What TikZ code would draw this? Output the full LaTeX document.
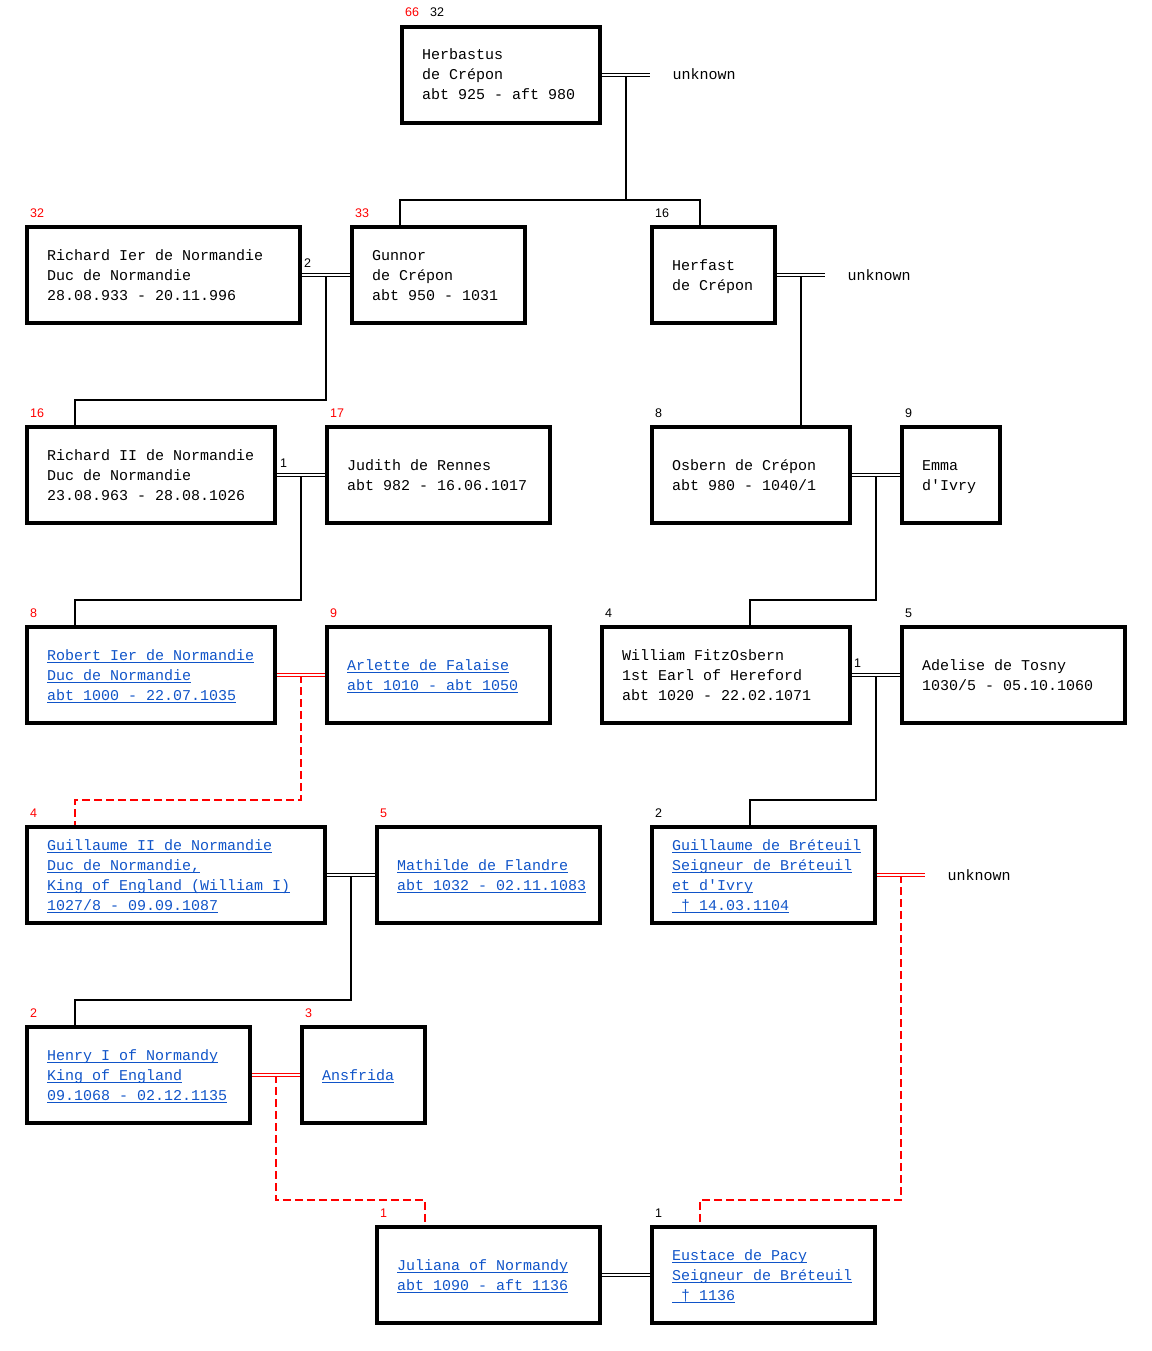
\documentclass[tikz,border=0pt]{standalone}
\usepackage{fontspec}
\newfontfamily\mono{Liberation Mono}
\newfontfamily\numf{Liberation Sans}
\usetikzlibrary{positioning}
\definecolor{lnkblue}{RGB}{16,84,200}
\newcommand\lnk[1]{\setbox0\hbox{#1}\rlap{\vrule width\wd0 height -2pt depth 3.2pt}\box0}
\newcommand\ps{\rule[-4pt]{0pt}{18pt}}
\tikzset{
  box/.style={draw, line width=3.8pt, minimum height=96.2pt, inner sep=0, anchor=north west},
  txt/.style={inner sep=0, align=left, font=\mono\fontsize{15}{20}\selectfont},
  link/.style={txt, text=lnkblue},
  num/.style={inner sep=0, anchor=base west, font=\numf\fontsize{12.5}{13}\selectfont},
  marr/.style={line width=1pt, double=white, double distance=1.2pt},
  desc/.style={line width=2pt},
  redline/.style={line width=2pt, red, dash pattern=on 8pt off 4pt},
}
\begin{document}
\begin{tikzpicture}[x=1pt, y=-1pt]
\useasboundingbox (0,0) rectangle (1151,1351);
% boxes
\node[box, minimum width=198pt] (herb) at (400,25) {};
\node[box, minimum width=273pt] (rich1) at (25,225) {};
\node[box, minimum width=173pt] (gunnor) at (350,225) {};
\node[box, minimum width=123pt] (herfast) at (650,225) {};
\node[box, minimum width=248pt] (rich2) at (25,425) {};
\node[box, minimum width=223pt] (judith) at (325,425) {};
\node[box, minimum width=198pt] (osbern) at (650,425) {};
\node[box, minimum width=98pt] (emma) at (900,425) {};
\node[box, minimum width=248pt] (robert) at (25,625) {};
\node[box, minimum width=223pt] (arlette) at (325,625) {};
\node[box, minimum width=248pt] (willf) at (600,625) {};
\node[box, minimum width=223pt] (adelise) at (900,625) {};
\node[box, minimum width=298pt] (guill) at (25,825) {};
\node[box, minimum width=223pt] (mathilde) at (375,825) {};
\node[box, minimum width=223pt] (guibr) at (650,825) {};
\node[box, minimum width=223pt] (henry) at (25,1025) {};
\node[box, minimum width=123pt] (ansfrida) at (300,1025) {};
\node[box, minimum width=223pt] (juliana) at (375,1225) {};
\node[box, minimum width=223pt] (eustace) at (650,1225) {};

% names
\node[txt, right=22pt of herb.west] (herbT) {\ps Herbastus\\de Crépon\\abt 925 - aft 980\ps};
\node[txt, right=22pt of rich1.west] (rich1T) {\ps Richard Ier de Normandie\\Duc de Normandie\\28.08.933 - 20.11.996\ps};
\node[txt, right=22pt of gunnor.west] (gunnorT) {\ps Gunnor\\de Crépon\\abt 950 - 1031\ps};
\node[txt, right=22pt of herfast.west] (herfastT) {\ps Herfast\\de Crépon\ps};
\node[txt, right=22pt of rich2.west] (rich2T) {\ps Richard II de Normandie\\Duc de Normandie\\23.08.963 - 28.08.1026\ps};
\node[txt, right=22pt of judith.west] (judithT) {\ps Judith de Rennes\\abt 982 - 16.06.1017\ps};
\node[txt, right=22pt of osbern.west] (osbernT) {\ps Osbern de Crépon\\abt 980 - 1040/1\ps};
\node[txt, right=22pt of emma.west] (emmaT) {\ps Emma\\d'Ivry\ps};
\node[link, right=22pt of robert.west] (robertT) {\ps\lnk{Robert Ier de Normandie}\\\lnk{Duc de Normandie}\\\lnk{abt 1000 - 22.07.1035}\ps};
\node[link, right=22pt of arlette.west] (arletteT) {\ps\lnk{Arlette de Falaise}\\\lnk{abt 1010 - abt 1050}\ps};
\node[txt, right=22pt of willf.west] (willfT) {\ps William FitzOsbern\\1st Earl of Hereford\\abt 1020 - 22.02.1071\ps};
\node[txt, right=22pt of adelise.west] (adeliseT) {\ps Adelise de Tosny\\1030/5 - 05.10.1060\ps};
\node[link, right=22pt of guill.west] (guillT) {\ps\lnk{Guillaume II de Normandie}\\\lnk{Duc de Normandie,}\\\lnk{King of England (William I)}\\\lnk{1027/8 - 09.09.1087}\ps};
\node[link, right=22pt of mathilde.west] (mathildeT) {\ps\lnk{Mathilde de Flandre}\\\lnk{abt 1032 - 02.11.1083}\ps};
\node[link, right=22pt of guibr.west] (guibrT) {\ps\lnk{Guillaume de Bréteuil}\\\lnk{Seigneur de Bréteuil}\\\lnk{et d'Ivry}\\\lnk{~† 14.03.1104}\ps};
\node[link, right=22pt of henry.west] (henryT) {\ps\lnk{Henry I of Normandy}\\\lnk{King of England}\\\lnk{09.1068 - 02.12.1135}\ps};
\node[link, right=22pt of ansfrida.west] (ansfridaT) {\ps\lnk{Ansfrida}\ps};
\node[link, right=22pt of juliana.west] (julianaT) {\ps\lnk{Juliana of Normandy}\\\lnk{abt 1090 - aft 1136}\ps};
\node[link, right=22pt of eustace.west] (eustaceT) {\ps\lnk{Eustace de Pacy}\\\lnk{Seigneur de Bréteuil}\\\lnk{~† 1136}\ps};

% numbers
\node[num, red] (n66) at (405,17) {66};
\node[num] (n32a) at (430,17) {32};
\node[num, red] (n32b) at (30,217) {32};
\node[num, red] (n33) at (355,217) {33};
\node[num] (n16a) at (655,217) {16};
\node[num, red] (n16b) at (30,417) {16};
\node[num, red] (n17) at (330,417) {17};
\node[num] (n8a) at (655,417) {8};
\node[num] (n9a) at (905,417) {9};
\node[num, red] (n8b) at (30,617) {8};
\node[num, red] (n9b) at (330,617) {9};
\node[num] (n4a) at (605,617) {4};
\node[num] (n5a) at (905,617) {5};
\node[num, red] (n4b) at (30,817) {4};
\node[num, red] (n5b) at (380,817) {5};
\node[num] (n2a) at (655,817) {2};
\node[num, red] (n2b) at (30,1017) {2};
\node[num, red] (n3) at (305,1017) {3};
\node[num, red] (n1a) at (380,1217) {1};
\node[num] (n1b) at (655,1217) {1};
\node[num] (mr1) at (304,267) {2};
\node[num] (mr2) at (280,467) {1};
\node[num] (mr3) at (854,667) {1};

% unknown spouses
\coordinate (u1) at ([xshift=48.5pt]herb.east);
\coordinate (u2) at ([xshift=48.5pt]herfast.east);
\coordinate (u3) at ([xshift=48.5pt]guibr.east);
\node[txt, right=22pt of u1] (unk1) {\ps unknown};
\node[txt, right=22pt of u2] (unk2) {\ps unknown};
\node[txt, right=22pt of u3] (unk3) {\ps unknown};

% middle of each couple
\path (herb.east) -- (u1) coordinate[midway] (m1);
\path (rich1.east) -- (gunnor.west) coordinate[midway] (m2);
\path (herfast.east) -- (u2) coordinate[midway] (m3);
\path (rich2.east) -- (judith.west) coordinate[midway] (m4);
\path (osbern.east) -- (emma.west) coordinate[midway] (m5);
\path (robert.east) -- (arlette.west) coordinate[midway] (m6);
\path (willf.east) -- (adelise.west) coordinate[midway] (m7);
\path (guill.east) -- (mathilde.west) coordinate[midway] (m8);
\path (guibr.east) -- (u3) coordinate[midway] (m9);
\path (henry.east) -- (ansfrida.west) coordinate[midway] (m10);

% children
\coordinate (t1) at (400,200);
\coordinate (t2) at (700,200);
\coordinate (t3) at (75,400);
\coordinate (t4) at (75,600);
\coordinate (t5) at (750,600);
\coordinate (t6) at (75,800);
\coordinate (t7) at (750,800);
\coordinate (t8) at (75,1000);
\coordinate (t9) at (700,1200);
\coordinate (t10) at (425,1200);
\draw[desc] (m1) -- (m1 |- t1);
\draw[desc] (t1 |- gunnor.north) -- (t1) -- (t2) -- (t2 |- herfast.north);
\draw[desc] (m2) |- (t3) -- (t3 |- rich2.north);
\draw[desc] (m3) -- (m3 |- osbern.north);
\draw[desc] (m4) |- (t4) -- (t4 |- robert.north);
\draw[desc] (m5) |- (t5) -- (t5 |- willf.north);
\draw[redline] (m6) |- (t6) -- (t6 |- guill.north);
\draw[desc] (m7) |- (t7) -- (t7 |- guibr.north);
\draw[desc] (m8) |- (t8) -- (t8 |- henry.north);
\draw[redline] (m9) |- (t9) -- (t9 |- eustace.north);
\draw[redline] (m10) |- (t10) -- (t10 |- juliana.north);

% marriages
\draw[marr] (herb.east) -- (u1);
\draw[marr] (rich1.east) -- (gunnor.west);
\draw[marr] (herfast.east) -- (u2);
\draw[marr] (rich2.east) -- (judith.west);
\draw[marr] (osbern.east) -- (emma.west);
\draw[marr, red] (robert.east) -- (arlette.west);
\draw[marr] (willf.east) -- (adelise.west);
\draw[marr] (guill.east) -- (mathilde.west);
\draw[marr, red] (guibr.east) -- (u3);
\draw[marr, red] (henry.east) -- (ansfrida.west);
\draw[marr] (juliana.east) -- (eustace.west);
\end{tikzpicture}
\end{document}
